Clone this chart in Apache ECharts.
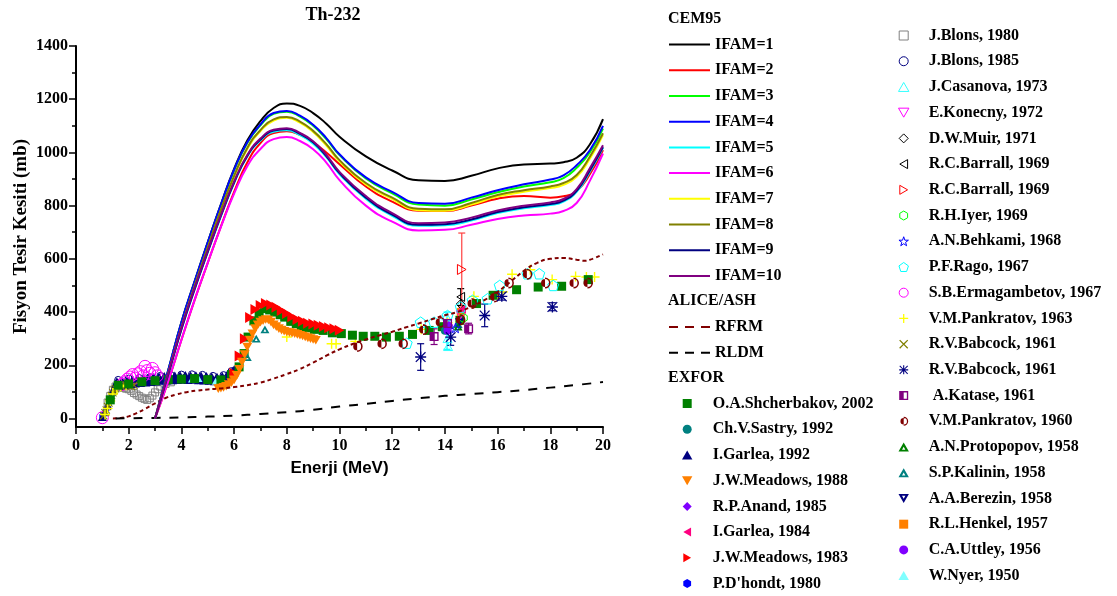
<!DOCTYPE html>
<html><head><meta charset="utf-8">
<script src="https://cdn.jsdelivr.net/npm/echarts@6/dist/echarts.min.js"></script>
<style>html,body{margin:0;padding:0;background:#fff}#c{width:1117px;height:596px}</style>
</head><body><div id="c"></div>
<script>
// ---------- DATA ----------
const energyGrid = [3.0,3.5,4.0,4.5,5.0,5.5,6.0,6.5,7.0,7.5,8.0,8.5,9.0,9.5,10,11,12,13,14,15,16,17,18,18.5,19,19.5,20];
const ifam1  = [0,180,362,515,662,805,938,1045,1118,1167,1184,1175,1148,1108,1059,985,932,895,893,912,940,955,958,963,980,1030,1125];
const ifam2  = [0,140,295,445,585,722,852,962,1035,1073,1080,1066,1038,1000,956,872,815,781,780,800,826,836,830,835,855,918,1009];
const ifam3  = [0,180,360,513,660,802,932,1035,1102,1145,1153,1135,1100,1050,990,902,846,804,800,823,850,872,888,903,942,1000,1090];
const ifam4  = [0,182,362,515,662,804,935,1038,1105,1148,1156,1138,1104,1054,993,906,852,810,807,830,858,880,898,914,952,1008,1100];
const ifam5  = [0,165,335,485,625,760,885,985,1045,1078,1083,1065,1033,982,918,826,762,724,726,744,772,790,802,815,852,927,1017];
const ifam6  = [0,140,295,445,585,720,845,948,1013,1050,1058,1043,1012,962,896,800,740,707,709,728,750,763,770,780,810,893,996];
const ifam7  = [0,168,340,495,640,782,908,1013,1080,1120,1130,1112,1077,1026,966,880,825,783,781,804,834,852,866,878,908,976,1065];
const ifam8  = [0,170,343,498,643,785,912,1017,1084,1124,1133,1116,1081,1031,971,885,830,788,786,810,840,858,872,885,915,984,1072];
const ifam9  = [0,165,335,485,626,762,887,987,1048,1082,1088,1070,1038,986,922,830,766,728,730,748,776,794,806,819,856,932,1020];
const ifam10 = [0,170,340,490,630,765,890,990,1052,1085,1091,1073,1042,991,927,836,772,734,737,755,782,800,812,825,862,940,1027];

const rfrmE = [1.4,1.7,2.0,2.3,2.6,3.0,3.4,3.8,4.2,4.6,5.0,5.5,6.0,6.5,7.0,7.5,8.0,8.5,9.0,9.5,10,10.5,11,11.5,12,12.5,13,13.5,14,14.5,15,15.5,16,16.5,17,17.5,18,18.5,19,19.3,19.6,20];
const rfrm  = [0,2,8,20,35,57,77,90,99,105,109,113,118,125,135,150,167,186,210,236,260,280,297,312,326,342,357,373,388,401,420,445,476,515,555,585,600,603,597,593,600,617];
const rldmE = [1.5,2,3,4,5,6,7,8,9,10,11,12,13,14,15,16,17,18,19,20];
const rldm  = [0,1,2,4,7,11,17,24,33,45,55,66,76,85,92,99,107,116,126,137];

const shcherbakov2002 = [[1.3,70],[1.6,125],[2.0,130],[2.5,138],[3.0,142],[3.5,146],[4.0,148],[4.5,150],[5.0,146],[5.5,145],[5.9,165],[6.19,194],[6.38,244],[6.53,306],[6.75,367],[6.95,395],[7.16,413],[7.35,408],[7.54,400],[7.75,390],[7.92,381],[8.15,365],[8.36,356],[8.55,346],[8.74,341],[9.05,335],[9.38,331],[9.73,322],[10.07,319],[10.49,313],[10.9,309],[11.34,309],[11.78,306],[12.27,309],[12.77,316],[13.4,331],[13.9,345],[14.57,369],[15.2,432],[15.83,463],[16.72,484],[17.54,494],[18.43,497],[19.44,522]];
const sastry1992 = [[14.0,330]];
const garlea1992 = [[1.0,5],[1.1,25],[1.2,50],[1.3,80],[1.4,105],[1.5,125],[1.6,135],[1.7,130],[1.8,128],[1.9,132],[2.0,134],[2.1,130],[2.2,136],[2.3,138],[2.4,135],[2.5,140],[2.6,138],[2.7,142],[2.8,140],[2.9,144],[3.0,143],[3.1,146],[3.2,144],[3.3,148],[3.4,146],[3.5,150],[3.6,147],[3.7,151],[3.8,149],[3.9,152],[4.0,150],[4.1,153],[4.2,150],[4.3,152],[4.4,149],[4.5,151],[4.6,148],[4.7,150],[4.8,147],[4.9,149],[5.0,146],[5.1,148],[5.2,145],[5.3,147],[5.4,144],[5.5,146],[5.6,150],[5.7,155],[5.8,162],[5.9,172],[6.0,185],
  [1.55,140],[1.75,142],[1.95,145],[2.15,148],[2.35,150],[2.55,152],[2.75,154],[2.95,156],[3.15,158],[3.35,160],[3.55,161],[3.75,162],[3.95,163],[4.15,164],[4.35,162],[4.55,163],[4.75,161],[4.95,160],[5.15,158],[5.35,157],[5.55,160],[5.75,168],[5.95,180],
  [1.65,122],[1.85,125],[2.05,128],[2.25,131],[2.45,133],[2.65,135],[2.85,137],[3.05,139],[3.25,141],[3.45,142],[3.65,143],[3.85,144],[4.05,145],[4.25,144],[4.45,145],[4.65,143],[4.85,142],[5.05,141],[5.25,140],[5.45,139],[5.65,145],[5.85,158],
  [1.52,132],[1.72,136],[1.92,139],[2.12,141],[2.32,144],[2.52,146],[2.72,148],[2.92,150],[3.12,152],[3.32,154],[3.52,155],[3.72,156],[3.92,157],[4.12,158],[4.32,157],[4.52,157],[4.72,156],[4.92,155],[5.12,153],[5.32,152],[5.52,153],[5.72,161],[5.92,176],[14.6,380]];
const meadows1988 = [[5.4,112],[5.5,114],[5.6,117],[5.7,121],[5.8,127],[5.9,135],[6.0,145],[6.1,162],[6.2,185],[6.3,212],[6.4,240],[6.5,268],[6.6,295],[6.7,318],[6.8,338],[6.9,352],[7.0,362],[7.1,368],[7.2,372],[7.3,370],[7.4,362],[7.5,352],[7.6,345],[7.7,338],[7.8,332],[7.9,328],[8.0,325],[8.1,323],[8.2,321],[8.3,319],[8.4,316],[8.5,313],[8.6,310],[8.7,307],[8.8,303],[8.9,300],[9.0,297],[9.1,294]];
const anand1985 = [[14.15,350]];
const garlea1984 = [[14.65,410]];
const meadows1983 = [[6.0,170],[6.2,235],[6.4,300],[6.6,380],[6.8,410],[7.0,425],[7.2,432],[7.4,427],[7.6,418],[7.8,406],[8.0,395],[8.2,382],[8.4,372],[8.6,365],[8.8,358],[9.0,355],[9.2,350],[9.4,346],[9.6,341],[9.8,337],[10.0,332]];
const dhondt1980 = [[1.0,8],[1.05,15],[1.15,35],[1.25,62],[1.35,90],[1.45,112],[1.6,125],[1.8,122],[2.0,126],[2.3,130],[2.6,134],[3.0,137],[3.4,140],[3.8,142],[4.2,143],[4.6,142],[5.0,140],[5.4,138],[5.7,150],[5.9,168]];

const blons1980 = [[1.2,60],[1.3,85],[1.4,108],[1.5,120],[1.6,117],[1.7,118],[1.8,115],[1.9,112],[2.0,110],[2.1,104],[2.2,96],[2.3,90],[2.4,84],[2.5,78],[2.6,74],[2.7,70],[2.8,76],[2.9,86],[3.0,98],[3.1,110],[3.2,120],[3.4,130],[3.6,136]];
const blons1985 = [[1.6,145],[2.0,150],[2.4,152],[2.8,155],[3.2,160],[3.6,163],[4.0,165],[4.4,166],[4.8,164],[5.2,160],[5.6,163],[5.9,178]];
const casanova1973 = [[14.05,385],[14.1,300],[14.12,270]];
const konecny1972 = [[14.6,390]];
const muir1971 = [[14.6,430]];
const barrallA1969 = [[14.6,457]];
const barrallB1969 = [[14.64,560]];
const iyer1969 = [[14.7,378]];
const behkami1968 = [[14.4,340]];
const rago1967 = [[12.55,283],[13.08,362],[13.59,362],[14.1,387],[14.6,419],[15.05,444],[15.62,450],[16.08,500],[17.13,544],[17.58,544],[18.11,500]];
const ermagambetov1967 = [[1.0,3],[1.75,128],[1.85,138],[1.95,148],[2.05,156],[2.15,165],[2.25,152],[2.35,168],[2.45,176],[2.55,160],[2.62,196],[2.7,180],[2.8,170],[2.9,188],[3.0,172],[3.08,160]];
const pankratov1963 = [[1.1,15],[1.2,38],[1.3,66],[1.4,92],[1.55,112],[1.7,120],[1.9,125],[8.0,306],[9.7,281],[9.87,281],[10.6,290],[13.1,335],[14.1,360],[14.6,365],[15.1,459],[16.2,476],[16.55,542],[17.24,559],[18.07,522],[18.96,534],[19.37,532],[19.68,532]];
const babcockX1961 = [[1.05,10],[1.1,22],[1.15,32],[1.2,45],[1.25,58],[1.3,72],[1.35,86],[1.4,97],[1.45,106],[1.5,112],[1.6,118],[1.7,122],[1.8,125],[1.9,127],[2.0,123],[2.1,120],[2.2,125]];
const babcockStar1961 = [[13.08,231],[14.22,306],[15.51,387],[16.16,459],[18.08,419]];
const babcockStarErr = [[13.08,181,281],[14.22,275,340],[15.51,345,430],[16.16,445,475],[18.08,405,435]];
const katase1961 = [[13.59,308],[14.1,357],[14.9,337]];
const kataseErr = [[13.59,278,337],[14.1,340,372],[14.9,318,358]];
const pankratov1960 = [[10.67,271],[11.59,281],[12.39,281],[13.17,334],[13.8,362],[14.57,371],[15.01,432],[15.87,457],[16.41,509],[17.11,542],[17.8,509],[18.88,509],[19.41,509]];
const protopopov1958 = [[14.5,345]];
const kalinin1958 = [[6.5,231],[6.84,300],[7.17,335],[14.5,355]];
const berezin1958 = [[14.55,362]];
const henkel1957 = [[14.6,400]];
const uttley1956 = [[14.1,330]];
const nyer1950 = [[4.4,148],[4.65,150],[5.3,140]];
const casanovaErr = [[14.08,260,400]];
const barrallAErr = [[14.6,425,488]];
const barrallBErr = [[14.64,419,697]];

const yTickValues = [0,200,400,600,800,1000,1200,1400];
const yMinorTickValues = [100,300,500,700,900,1100,1300];

// ---------- STYLE ----------
const SERIF = 'Liberation Serif';
const P = {
  rect: 'path://M0,0 H10 V10 H0 Z',
  tri: 'path://M5,0 L10,8.66 L0,8.66 Z',
  diam: 'path://M5,0 L10,5 L5,10 L0,5 Z',
  dtri: 'path://M0,0 L10,0 L5,8.66 Z',
  ltri: 'path://M0,5 L8.66,0 L8.66,10 Z',
  rtri: 'path://M8.66,5 L0,0 L0,10 Z',
  hex: 'path://M5,0 L9.33,2.5 L9.33,7.5 L5,10 L0.67,7.5 L0.67,2.5 Z',
  pent: 'path://M5,0 L10,3.63 L8.09,9.51 L1.91,9.51 L0,3.63 Z',
  star: 'path://M5,0 L6.18,3.45 L9.76,3.45 L6.9,5.6 L7.94,9.05 L5,7 L2.06,9.05 L3.1,5.6 L0.24,3.45 L3.82,3.45 Z',
  plus: 'path://M4.3,0 H5.7 V4.3 H10 V5.7 H5.7 V10 H4.3 V5.7 H0 V4.3 H4.3 Z',
  cross: 'path://M1,0 L5,4 L9,0 L10,1 L6,5 L10,9 L9,10 L5,6 L1,10 L0,9 L4,5 L0,1 Z',
  aster: 'path://M4.4,0 H5.6 V10 H4.4 Z M0,4.4 H10 V5.6 H0 Z M1,0.2 L5,4.2 L9,0.2 L9.8,1 L5.8,5 L9.8,9 L9,9.8 L5,5.8 L1,9.8 L0.2,9 L4.2,5 L0.2,1 Z',
  halfSq: 'path://M0,0 H10 V10 H0 Z M1.5,1.5 V8.5 H8.5 V1.5 Z M0,0 H5 V10 H0 Z',
  halfCirc: 'path://M0,5 A5,5 0 1,1 10,5 A5,5 0 1,1 0,5 Z M1.4,5 A3.6,3.6 0 1,0 8.6,5 A3.6,3.6 0 1,0 1.4,5 Z M5,0 A5,5 0 0,0 5,10 Z',
  triHole: 'path://M5,0 L10,8.66 L0,8.66 Z M5,4 L3.4,6.9 L6.6,6.9 Z',
  dtriHole: 'path://M0,0 L10,0 L5,8.66 Z M3.4,1.8 L5,4.7 L6.6,1.8 Z'
};
const CLEAR = 'rgba(255,255,255,0)';

function lineSeries(name, ys, color) {
  return {name, type:'line', data: energyGrid.map((e,i)=>[e, ys[i]]), symbol:'none', showSymbol:false, smooth:0.5,
    lineStyle:{color, width:2}, itemStyle:{color}, z:3, silent:true};
}
function dashSeries(name, xs, ys, color, dash) {
  return {name, type:'line', data: xs.map((e,i)=>[e, ys[i]]), symbol:'none', showSymbol:false, smooth:0.5,
    lineStyle:{color, width:2, type:dash}, itemStyle:{color}, z:3, silent:true};
}
function filled(name, data, symbol, size, color) {
  return {name, type:'scatter', data, symbol, symbolSize:size, symbolKeepAspect:true,
    itemStyle:{color, borderColor:CLEAR, borderWidth:0, opacity:1}, silent:true, z:2};
}
function hollow(name, data, symbol, size, color) {
  return {name, type:'scatter', data, symbol, symbolSize:size, symbolKeepAspect:true,
    itemStyle:{color:CLEAR, borderColor:color, borderWidth:1, opacity:1}, silent:true, z:2};
}
function errSeries(data, color) {
  return {type:'custom', data, encode:{x:0, y:[1,2]}, z:2, silent:true,
    renderItem:(p, api)=>{
      const x = api.value(0), lo = api.value(1), hi = api.value(2);
      const a = api.coord([x, lo]), b = api.coord([x, hi]);
      const st = {stroke:color, lineWidth:1.2};
      return {type:'group', children:[
        {type:'line', shape:{x1:a[0], y1:a[1], x2:b[0], y2:b[1]}, style:st},
        {type:'line', shape:{x1:a[0]-3.5, y1:a[1], x2:a[0]+3.5, y2:a[1]}, style:st},
        {type:'line', shape:{x1:b[0]-3.5, y1:b[1], x2:b[0]+3.5, y2:b[1]}, style:st}
      ]};
    }};
}

const ifamNames = ['IFAM=1','IFAM=2','IFAM=3','IFAM=4','IFAM=5','IFAM=6','IFAM=7','IFAM=8','IFAM=9','IFAM=10'];
const ifamData = [ifam1,ifam2,ifam3,ifam4,ifam5,ifam6,ifam7,ifam8,ifam9,ifam10];
const ifamColors = ['#000000','#FF0000','#00FF00','#0000FF','#00FFFF','#FF00FF','#FFFF00','#808000','#000080','#800080'];

const exfor1 = ['O.A.Shcherbakov, 2002','Ch.V.Sastry, 1992','I.Garlea, 1992','J.W.Meadows, 1988','R.P.Anand, 1985','I.Garlea, 1984','J.W.Meadows, 1983',"P.D'hondt, 1980"];
const exfor2 = ['J.Blons, 1980','J.Blons, 1985','J.Casanova, 1973','E.Konecny, 1972','D.W.Muir, 1971','R.C.Barrall, 1969','R.C.Barrall, 1969 ','R.H.Iyer, 1969','A.N.Behkami, 1968','P.F.Rago, 1967','S.B.Ermagambetov, 1967','V.M.Pankratov, 1963','R.V.Babcock, 1961','R.V.Babcock, 1961 ',' A.Katase, 1961','V.M.Pankratov, 1960','A.N.Protopopov, 1958','S.P.Kalinin, 1958','A.A.Berezin, 1958','R.L.Henkel, 1957','C.A.Uttley, 1956','W.Nyer, 1950'];

const series = [
  hollow(exfor2[0], blons1980, P.rect, 7, '#808080'),
  filled(exfor1[7], dhondt1980, P.hex, 7, '#0000FF'),
  hollow(exfor2[1], blons1985, 'circle', 7, '#000080'),
  filled(exfor1[2], garlea1992, P.tri, 9, '#000080'),
  hollow(exfor2[10], ermagambetov1967, 'circle', 12, '#FF00FF'),
  filled(exfor2[12], babcockX1961, P.cross, 8, '#808000'),
  filled(exfor2[11], pankratov1963, P.plus, 10, '#FFFF00'),
  filled(exfor2[21], nyer1950, P.tri, 8, '#80FFFF'),
  filled(exfor1[0], shcherbakov2002, P.rect, 9, '#008000'),
  filled(exfor1[6], meadows1983, P.rtri, 11, '#FF0000'),
  filled(exfor2[17], kalinin1958, P.triHole, 9, '#008080'),
  filled(exfor1[3], meadows1988, P.dtri, 10, '#FF8000'),
  errSeries(casanovaErr, '#00FFFF'),
  errSeries(kataseErr, '#800080'),
  errSeries(babcockStarErr, '#000080'),
  errSeries(barrallAErr, '#000000'),
  errSeries(barrallBErr, '#FF4040'),
  filled(exfor1[1], sastry1992, 'circle', 8, '#008080'),
  filled(exfor2[20], uttley1956, 'circle', 8, '#8000FF'),
  filled(exfor1[4], anand1985, P.diam, 9, '#8000FF'),
  hollow(exfor2[2], casanova1973, P.tri, 9, '#33FFFF'),
  filled(exfor2[16], protopopov1958, P.triHole, 9, '#008000'),
  filled(exfor2[18], berezin1958, P.dtriHole, 9, '#000080'),
  filled(exfor2[19], henkel1957, P.rect, 8, '#FF8000'),
  hollow(exfor2[3], konecny1972, P.dtri, 9, '#FF00FF'),
  hollow(exfor2[4], muir1971, P.diam, 9, '#000000'),
  hollow(exfor2[7], iyer1969, P.hex, 9, '#00FF00'),
  hollow(exfor2[8], behkami1968, P.star, 10, '#0000FF'),
  filled(exfor1[5], garlea1984, P.ltri, 9, '#FF0080'),
  hollow(exfor2[9], rago1967, P.pent, 11, '#00FFFF'),
  filled(exfor2[15], pankratov1960, P.halfCirc, 11, '#800000'),
  filled(exfor2[14], katase1961, P.halfSq, 9, '#800080'),
  filled(exfor2[13], babcockStar1961, P.aster, 11, '#000080'),
  hollow(exfor2[5], barrallA1969, P.ltri, 9, '#000000'),
  hollow(exfor2[6], barrallB1969, P.rtri, 10, '#FF0000'),
  dashSeries('RFRM', rfrmE, rfrm, '#800000', [4,3]),
  dashSeries('RLDM', rldmE, rldm, '#000000', [9,9])
];
ifamNames.forEach((n,i)=>series.push(lineSeries(n, ifamData[i], ifamColors[i])));

const legTxt = {fontFamily:SERIF, fontWeight:'bold', fontSize:16, color:'#000', lineHeight:16};
const GAP = 9.72;
function legend(data, left, top, iw, ih, itemStyle) {
  return {data, left, top, orient:'vertical', itemWidth:iw, itemHeight:ih, itemGap:GAP, padding:0,
    selectedMode:false, textStyle:legTxt, itemStyle: itemStyle || {}};
}
const hideSym = {color:'rgba(0,0,0,0)', borderColor:'rgba(0,0,0,0)', borderWidth:0, opacity:0};

function hdr(text, x, y) {
  return {type:'text', x, y, silent:true,
    style:{text, fill:'#000', font:'bold 16px "Liberation Serif"', align:'left', verticalAlign:'middle', textAlign:'left', textVerticalAlign:'middle'}};
}

const option = {
  animation:false,
  backgroundColor:'#fff',
  grid:[{left:76, top:46, width:527, height:381, containLabel:false},
        {left:76, top:46, width:527, height:381, containLabel:false}],
  xAxis:[{
    type:'value', gridIndex:0, min:0, max:20, interval:2,
    name:'Enerji (MeV)', nameLocation:'middle', nameGap:33,
    nameTextStyle:{fontFamily:'Liberation Sans', fontWeight:'bold', fontSize:17, color:'#000'},
    axisLine:{show:true, onZero:false, lineStyle:{color:'#000', width:2}},
    axisTick:{show:true, length:7, lineStyle:{color:'#000', width:1.5}},
    minorTick:{show:true, splitNumber:2, length:4, lineStyle:{color:'#000', width:1.5}},
    axisLabel:{fontFamily:SERIF, fontWeight:'bold', fontSize:16, color:'#000', margin:11, formatter:v=>String(v)},
    splitLine:{show:false}
  },{
    type:'value', gridIndex:1, min:0, max:20, show:false
  }],
  yAxis:[{
    type:'value', gridIndex:0, min:-32, max:1400,
    name:'Fisyon Tesir Kesiti (mb)', nameLocation:'middle', nameGap:45, nameRotate:90,
    nameTextStyle:{fontFamily:SERIF, fontWeight:'bold', fontSize:19, color:'#000'},
    axisLine:{show:true, onZero:false, lineStyle:{color:'#000', width:2}},
    axisTick:{show:true, length:7, customValues:yTickValues, lineStyle:{color:'#000', width:1.5}},
    axisLabel:{customValues:yTickValues, fontFamily:SERIF, fontWeight:'bold', fontSize:16, color:'#000', margin:8, formatter:v=>String(v)},
    splitLine:{show:false}
  },{
    type:'value', gridIndex:1, min:-32, max:1400,
    axisLine:{show:false, onZero:false},
    axisTick:{show:true, length:4, customValues:yMinorTickValues, lineStyle:{color:'#000', width:1.5}},
    axisLabel:{show:false},
    splitLine:{show:false}
  }],
  legend:[
    legend(ifamNames, 668, 36.5, 41, 10, hideSym),
    legend([{name:'RFRM', lineStyle:{type:[9,7]}}, {name:'RLDM', lineStyle:{type:[9,7]}}], 668, 319, 41, 10, hideSym),
    legend(exfor1, 682, 395.5, 41, 9, {borderWidth:0}),
    legend(exfor2, 898, 27.5, 40, 9, {borderWidth:1})
  ],
  graphic:[
    {type:'text', x:333, y:15, silent:true, style:{text:'Th-232', fill:'#000', font:'bold 18px "Liberation Serif"', align:'center', verticalAlign:'middle', textAlign:'center', textVerticalAlign:'middle'}},
    hdr('CEM95', 668, 19),
    hdr('ALICE/ASH', 668, 300.9),
    hdr('EXFOR', 668, 377.8)
  ],
  series: series.map(s => Object.assign({xAxisIndex:0, yAxisIndex:0, animation:false}, s))
};

const chart = echarts.init(document.getElementById('c'), null, {renderer:'canvas'});
chart.setOption(option);
</script>
</body></html>
